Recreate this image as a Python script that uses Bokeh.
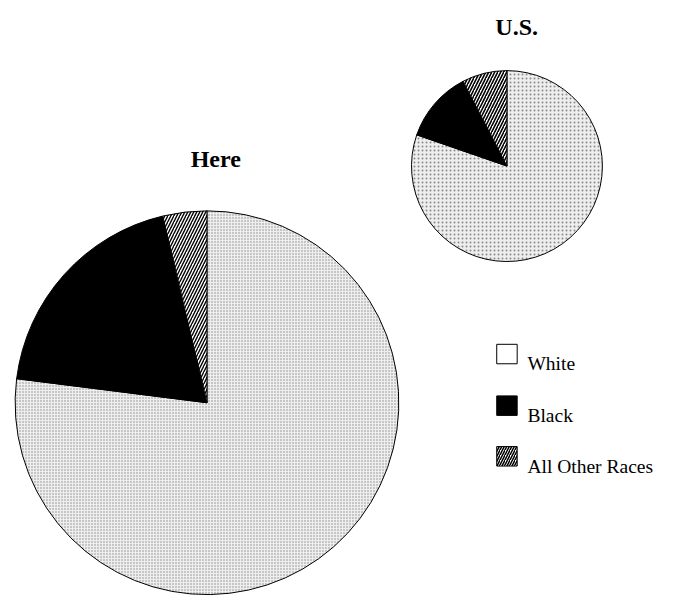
import math
from bokeh.plotting import figure
from bokeh.models import Range1d, ColumnDataSource
from bokeh.core.properties import value
from bokeh.embed import file_html
from bokeh.resources import INLINE

# ---- data ----
categories = ["White", "Black", "All Other Races"]
here_pct = [77.0, 19.3, 3.7]
us_pct = [80.3, 12.1, 7.6]
pie_titles = ["Here", "U.S."]

# ---- styles ----
fills = ["#eeeeee", "#000000", "#ffffff"]
hatches = ["dot", " ", "/"]
hatch_colors = ["#8a8a8a", "#000000", "#000000"]

W, H = 675, 598
REF_H = 614
SCALE = H / REF_H          # layout laid out in reference pixels, scaled to fit
p = figure(width=W, height=H, output_backend="svg", toolbar_location=None,
           x_range=Range1d(0, W / SCALE), y_range=Range1d(REF_H - H / SCALE, REF_H),
           min_border=0, outline_line_color=None)
p.axis.visible = False
p.grid.visible = False
p.background_fill_color = "white"
p.border_fill_color = "white"

def Y(s):
    return REF_H - s

def add_pie(pct, cx, cy, r, dot_scale, line_scale, line_w):
    total = sum(pct)
    starts, ends = [], []
    acc = 0.0
    for v in pct:
        starts.append(math.pi / 2 - acc / total * 2 * math.pi)
        acc += v
        ends.append(math.pi / 2 - acc / total * 2 * math.pi)
    src = ColumnDataSource(dict(start=starts, end=ends, fill=fills,
                                hatch=hatches, hcolor=hatch_colors,
                                hscale=[dot_scale, 1, line_scale],
                                hweight=[1.0, 1.0, line_w],
                                cat=categories))
    p.wedge(x=cx, y=Y(cy), radius=r, start_angle="start", end_angle="end",
            direction="clock", source=src, fill_color="fill",
            hatch_pattern="hatch", hatch_color="hcolor", hatch_scale="hscale",
            hatch_weight="hweight", line_color="black", line_width=1)

add_pie(here_pct, 212, 413, 197, 3, 6, 1.4)
add_pie(us_pct, 520, 170, 98, 4, 6, 1.6)

fs_title = "%dpx" % round(25 * SCALE)
fs_leg = "%.1fpx" % (20 * SCALE)

# titles
p.text(x=[221, 530], y=[Y(163), Y(27)], text=pie_titles,
       text_font=value("Liberation Serif"), text_font_style="bold",
       text_font_size=fs_title, text_align="center", text_baseline="alphabetic",
       text_color="black")

# legend
ly = [363, 416, 468]
leg_fills = ["#ffffff", "#000000", "#ffffff"]
lsrc = ColumnDataSource(dict(x=[520] * 3, y=[Y(v) for v in ly], fill=leg_fills,
                             hatch=hatches, hcolor=["#ffffff", "#000000", "#000000"],
                             tx=[541] * 3, ty=[Y(v + 10) for v in ly],
                             cat=categories))
p.rect(x="x", y="y", width=21, height=20, source=lsrc, fill_color="fill",
       hatch_pattern="hatch", hatch_color="hcolor", hatch_scale=5,
       hatch_weight=1.5, line_color="black", line_width=1)
p.text(x="tx", y="ty", text="cat", source=lsrc,
       text_font=value("Liberation Serif"), text_font_size=fs_leg,
       text_baseline="alphabetic", text_color="black")

open("out.html", "w").write(file_html(p, INLINE))
